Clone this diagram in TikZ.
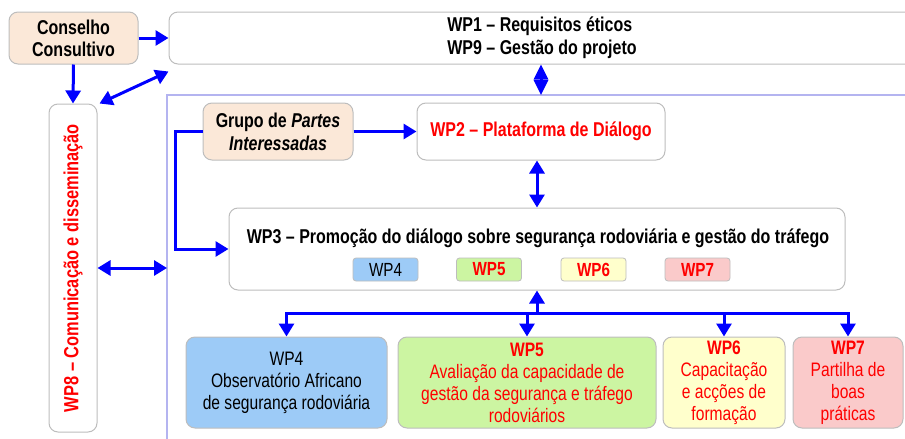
\documentclass[tikz,border=0pt]{standalone}
\usepackage{fontspec}
\setmainfont[FakeStretch=0.8]{Liberation Sans}
\usetikzlibrary{arrows.meta,calc}
\definecolor{peach}{HTML}{FBE8D8}
\definecolor{bxblue}{HTML}{9DCBF7}
\definecolor{bxgreen}{HTML}{CCF5A2}
\definecolor{bxyellow}{HTML}{FFFFCC}
\definecolor{bxpink}{HTML}{FACACA}
\definecolor{bordgray}{HTML}{BDBDBD}
\definecolor{framec}{HTML}{B4B4F0}
\definecolor{arrblue}{HTML}{0000FF}
\definecolor{txtred}{HTML}{FF0000}
\tikzset{
  box/.style={draw=bordgray, line width=1pt, rounded corners=9pt, inner sep=2pt, align=center},
  mini/.style={draw=bordgray, line width=0.8pt, rounded corners=3pt, minimum width=65pt, minimum height=23pt, inner sep=0pt, font=\fontsize{19}{20}\selectfont},
  bl/.style={draw=arrblue, line width=3pt},
  arr/.style={bl, -{Triangle[length=13pt,width=15pt]}},
  darr/.style={bl, {Triangle[length=13pt,width=15pt]}-{Triangle[length=13pt,width=15pt]}},
  bigtxt/.style={font=\fontsize{20}{23}\selectfont\bfseries},
  smtxt/.style={font=\fontsize{19.5}{22}\selectfont}
}
\begin{document}
\begin{tikzpicture}[x=1pt,y=-1pt]
\useasboundingbox (0,0) rectangle (905,439);
\clip (0,0) rectangle (905,439);
% frame
\coordinate (frtop) at (541,95);
\coordinate (frleft) at (167,268);
\draw[framec, line width=1.2pt] (167,460) -- (167,95) -- (920,95);
% top row
\node[box, fill=peach, minimum width=129pt, minimum height=52pt, bigtxt] (cc) at (73.5,38) {Conselho\\[-1pt]Consultivo};
\node[box, fill=white, minimum width=746pt, minimum height=52pt, bigtxt, align=left] (wp1) at (542,38) {WP1 -- Requisitos éticos\\WP9 -- Gestão do projeto};
% WP8
\node[box, fill=white, minimum width=48pt, minimum height=328pt] (wp8) at (73,268) {};
\node[rotate=90, text=txtred, font=\fontsize{20.5}{22}\selectfont\bfseries] at (wp8.center) {WP8 -- Comunicação e disseminação};
% second row
\node[box, fill=peach, minimum width=150pt, minimum height=57pt, bigtxt] (grp) at (278,131.5) {Grupo de \textit{Partes}\\\textit{Interessadas}};
\node[box, fill=white, minimum width=248pt, minimum height=57pt, bigtxt, text=txtred] (wp2) at (541,131.5) {WP2 -- Plataforma de Diálogo};
% WP3
\node[box, fill=white, minimum width=616pt, minimum height=82pt] (wp3) at (537,249) {};
\node[bigtxt] (wp3t) at (538,238) {WP3 -- Promoção do diálogo sobre segurança rodoviária e gestão do tráfego};
\node[mini, fill=bxblue] (m4) at (385.5,269.5) {WP4};
\node[mini, fill=bxgreen, text=txtred] (m5) at (489,269.5) {\bfseries WP5};
\node[mini, fill=bxyellow, text=txtred] (m6) at (593.5,269.5) {\bfseries WP6};
\node[mini, fill=bxpink, text=txtred] (m7) at (697.5,269.5) {\bfseries WP7};
% bottom boxes
\node[box, fill=bxblue, minimum width=201pt, minimum height=91pt, smtxt] (b4) at (286.5,382.5) {WP4\\Observatório Africano\\de segurança rodoviária};
\node[box, fill=bxgreen, minimum width=258pt, minimum height=91pt, smtxt, text=txtred] (b5) at (527,382.5) {\textbf{WP5}\\Avaliação da capacidade de\\gestão da segurança e tráfego\\rodoviários};
\node[box, fill=bxyellow, minimum width=122pt, minimum height=91pt, smtxt, text=txtred] (b6) at (724,382.5) {\textbf{WP6}\\Capacitação\\e acções de\\formação};
\node[box, fill=bxpink, minimum width=110pt, minimum height=91pt, smtxt, text=txtred] (b7) at (848,382.5) {\textbf{WP7}\\Partilha de\\boas\\práticas};
% connectors
\draw[arr] (cc.east) -- (cc.east -| wp1.west);
\draw[arr] (cc.south) -- (wp8.north);
\draw[darr] ($(wp8.north east)+(2,0)$) -- ($(wp1.south west)+(0,7)$);
\draw[bl, {Triangle[length=15pt,width=14pt]}-{Triangle[length=15pt,width=14pt]}] (wp1.south -| frtop) -- (frtop);
\draw[darr] (wp8.east |- frleft) -- (frleft);
\draw[arr] (grp.east) -- (wp2.west);
\draw[arr] (grp.west) -- ++(-27,0) |- (wp3.west);
\draw[darr] (wp3.north) -- (wp3.north |- wp2.south);
\coordinate (bus) at (537,313);
\draw[arr] (bus) -- (wp3.south);
\draw[arr] (bus) -| (b4.north);
\draw[arr] (bus) -| (b5.north);
\draw[arr] (bus) -| (b6.north);
\draw[arr] (bus) -| (b7.north);
\end{tikzpicture}
\end{document}
